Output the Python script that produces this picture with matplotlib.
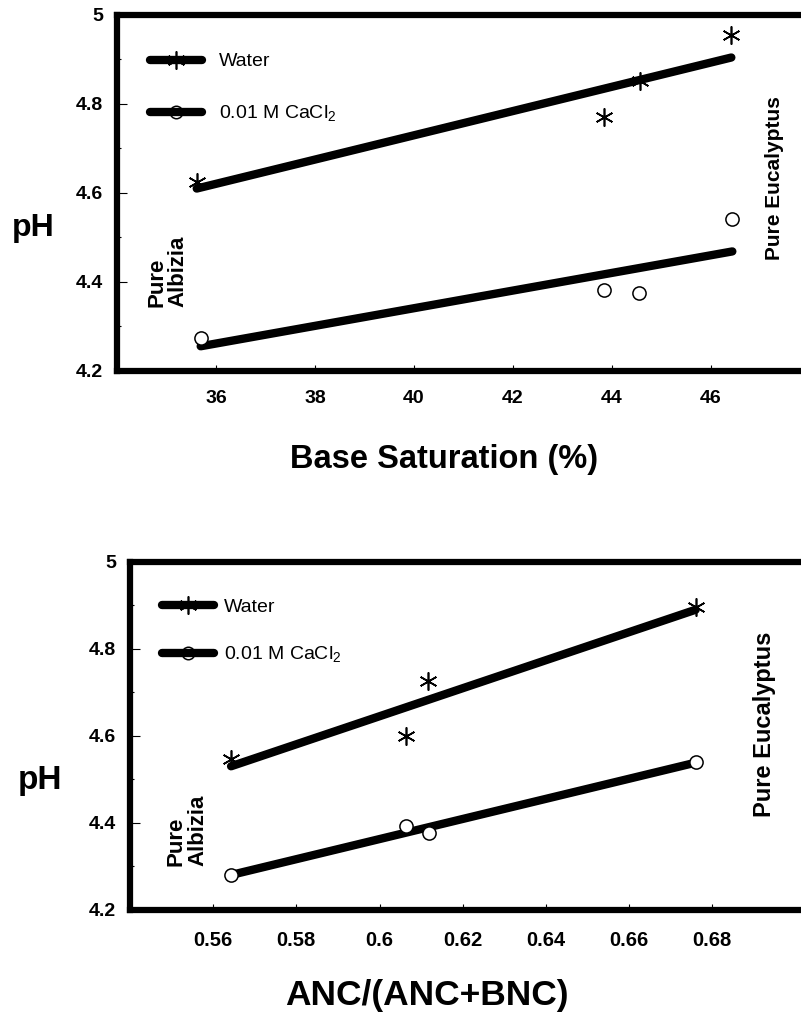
import numpy as np
import matplotlib
matplotlib.use("Agg")
import matplotlib.pyplot as plt
from matplotlib.lines import Line2D
from matplotlib.ticker import MultipleLocator, FixedLocator

plt.rcParams['font.family'] = ['Liberation Sans', 'DejaVu Sans']
plt.rcParams['mathtext.fontset'] = 'custom'
plt.rcParams['mathtext.rm'] = 'Liberation Sans'

# base saturation panel
bs_water_x = [35.61, 43.84, 44.56, 46.41]
bs_water_y = [4.625, 4.770, 4.850, 4.955]
bs_cacl_x = [35.69, 43.84, 44.54, 46.43]
bs_cacl_y = [4.273, 4.382, 4.375, 4.540]
bs_ticks = [36, 38, 40, 42, 44, 46]

# ANC/(ANC+BNC) panel
anc_water_x = [0.5643, 0.6064, 0.6116, 0.6760]
anc_water_y = [4.547, 4.599, 4.726, 4.897]
anc_cacl_x = [0.5643, 0.6064, 0.6120, 0.6762]
anc_cacl_y = [4.280, 4.392, 4.376, 4.540]
anc_ticks = [0.56, 0.58, 0.60, 0.62, 0.64, 0.66, 0.68]
anc_ticklabels = ['0.56', '0.58', '0.6', '0.62', '0.64', '0.66', '0.68']

ph_ticks = [4.2, 4.4, 4.6, 4.8, 5.0]
ph_ticklabels = ['4.2', '4.4', '4.6', '4.8', '5']

STAR = (6, 2, 0)

fig = plt.figure(figsize=(8.01, 10.26), dpi=100)
ax1 = fig.add_axes([0.1461, 0.6387, 0.8652, 0.3470])
ax2 = fig.add_axes([0.1623, 0.1131, 0.8827, 0.3392])


def fit_line(ax, x, y):
    x = np.asarray(x)
    k, b = np.polyfit(x, y, 1)
    xs = np.array([x.min(), x.max()])
    ax.plot(xs, k * xs + b, color='black', lw=6, solid_capstyle='round', zorder=2)


def panel(ax, wx, wy, cx, cy, xlim, xticks, xlabels, xminor, xfs, xpad):
    fit_line(ax, wx, wy)
    fit_line(ax, cx, cy)
    ax.plot(wx, wy, ls='none', marker=STAR, ms=13, mew=1.2, color='black', zorder=3)
    ax.plot(cx, cy, ls='none', marker='o', ms=9.5, mew=1.1, mec='black', mfc='white', zorder=3)
    ax.set_xlim(*xlim)
    ax.set_ylim(4.2, 5.0)
    ax.xaxis.set_major_locator(FixedLocator(xticks))
    ax.set_xticklabels(xlabels)
    ax.xaxis.set_minor_locator(MultipleLocator(xminor))
    ax.set_yticks(ph_ticks)
    ax.set_yticklabels(ph_ticklabels)
    ax.yaxis.set_minor_locator(MultipleLocator(0.1))
    for s in ax.spines.values():
        s.set_linewidth(4.5)
    ax.tick_params(axis='y', which='major', direction='in', length=7, width=0.8,
                   labelsize=14, pad=10)
    ax.tick_params(axis='y', which='minor', direction='in', length=3, width=0.8)
    ax.tick_params(axis='x', which='major', direction='in', length=4, width=0.8,
                   labelsize=xfs, pad=xpad)
    ax.tick_params(axis='x', which='minor', direction='in', length=2.5, width=0.8)
    for lab in ax.get_xticklabels() + ax.get_yticklabels():
        lab.set_fontweight('bold')

    h_w = Line2D([], [], color='black', lw=6, marker=STAR, ms=13, mew=1.2,
                 solid_capstyle='round')
    h_c = Line2D([], [], color='black', lw=6, marker='o', ms=9, mew=1.1,
                 mfc='none', mec='black', solid_capstyle='round')
    return h_w, h_c


h_w, h_c = panel(ax1, bs_water_x, bs_water_y, bs_cacl_x, bs_cacl_y,
                 (34, 48), bs_ticks, [str(t) for t in bs_ticks], 1, 14, 14)
ax1.legend([h_w, h_c], ['Water', r'0.01 M CaCl$_2$'], loc='center left',
           bbox_to_anchor=(0.047, 0.793), frameon=False, numpoints=1,
           handlelength=2.7, handletextpad=0.85, labelspacing=1.7,
           borderpad=0, borderaxespad=0, fontsize=14)
ax1.text(35.01, 4.424, 'Pure\nAlbizia', rotation=90, ha='center', va='center',
         multialignment='left', fontsize=16, fontweight='bold', linespacing=1.0)
ax1.text(47.29, 4.633, 'Pure Eucalyptus', rotation=90, ha='center', va='center',
         fontsize=15, fontweight='bold')

h_w, h_c = panel(ax2, anc_water_x, anc_water_y, anc_cacl_x, anc_cacl_y,
                 (0.54, 0.71), anc_ticks, anc_ticklabels, 0.01, 14.5, 15.5)
ax2.legend([h_w, h_c], ['Water', r'0.01 M CaCl$_2$'], loc='center left',
           bbox_to_anchor=(0.045, 0.80), frameon=False, numpoints=1,
           handlelength=2.7, handletextpad=0.5, labelspacing=1.5,
           borderpad=0, borderaxespad=0, fontsize=14)
ax2.text(0.5537, 4.384, 'Pure\nAlbizia', rotation=90, ha='center', va='center',
         multialignment='left', fontsize=16, fontweight='bold', linespacing=1.0)
ax2.text(0.6926, 4.627, 'Pure Eucalyptus', rotation=90, ha='center', va='center',
         fontsize=17, fontweight='bold')

fig.text(0.0412, 0.7778, 'pH', fontsize=23, fontweight='bold', ha='center', va='center')
fig.text(0.0499, 0.2388, 'pH', fontsize=24, fontweight='bold', ha='center', va='center')
fig.text(0.5543, 0.5526, 'Base Saturation (%)', fontsize=23.5, fontweight='bold',
         ha='center', va='center')
fig.text(0.5331, 0.0302, 'ANC/(ANC+BNC)', fontsize=25.5, fontweight='bold',
         ha='center', va='center')

fig.savefig('out.png', dpi=100)
